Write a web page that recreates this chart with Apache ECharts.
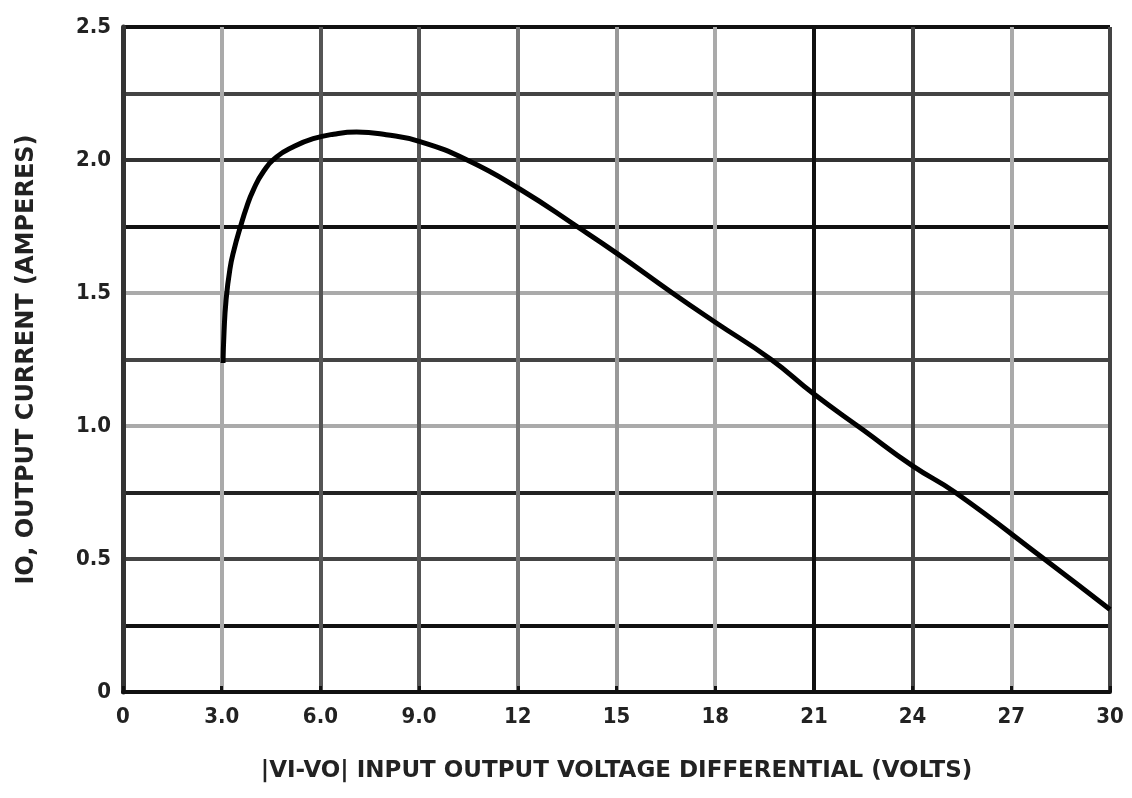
<!DOCTYPE html>
<html>
<head>
<meta charset="utf-8">
<script src="https://cdn.jsdelivr.net/npm/echarts@6/dist/echarts.min.js"></script>
<style>html,body{margin:0;padding:0;background:#fff}#c{width:1132px;height:798px}</style>
</head>
<body>
<div id="c"></div>
<script>
// Data
const voltage = [3.04, 3.07, 3.13, 3.25, 3.38, 3.56, 3.76, 3.96, 4.26, 4.67, 5.18, 5.78, 6.4, 7.1, 8.0, 9.0, 10.46, 12.07, 13.8, 15.0, 16.7, 18.0, 19.7, 21.0, 22.5, 24.0, 25.3, 28.0, 30.0];
const current = [1.237, 1.35, 1.47, 1.59, 1.665, 1.745, 1.824, 1.887, 1.955, 2.012, 2.05, 2.08, 2.097, 2.105, 2.095, 2.07, 2.00, 1.89, 1.75, 1.65, 1.50, 1.39, 1.25, 1.12, 0.985, 0.85, 0.75, 0.50, 0.31];
const xTickLabels = ['0', '3.0', '6.0', '9.0', '12', '15', '18', '21', '24', '27', '30'];
const yTickLabels = ['0', '0.5', '1.0', '1.5', '2.0', '2.5'];
const xName = '|VI-VO| INPUT OUTPUT VOLTAGE DIFFERENTIAL (VOLTS)';
const yName = 'IO, OUTPUT CURRENT (AMPERES)';

const tickFont = "'DejaVu Sans Condensed', 'Liberation Sans', sans-serif";
const nameFont = "'DejaVu Sans', 'Liberation Sans', sans-serif";
const chart = echarts.init(document.getElementById('c'), null, {renderer: 'canvas'});
chart.setOption({
  animation: false,
  backgroundColor: '#fff',
  grid: {left: 123, right: 22, top: 27, bottom: 106, containLabel: false},
  xAxis: {
    type: 'value', min: 0, max: 30, interval: 3,
    name: xName, nameLocation: 'middle', nameGap: 68,
    nameTextStyle: {fontFamily: nameFont, fontWeight: 'bold', fontSize: 23, color: '#222'},
    axisLine: {show: true, lineStyle: {color: '#111', width: 4}},
    axisTick: {show: true, inside: true, length: 6, lineStyle: {color: '#111', width: 3}},
    axisLabel: {
      fontFamily: tickFont, fontWeight: 'bold', fontSize: 22, color: '#222', margin: 14,
      formatter: (v) => xTickLabels[Math.round(v / 3)] ?? ''
    },
    splitLine: {show: true, lineStyle: {width: 4, color: ['#333', '#aaa', '#555', '#555', '#777', '#999', '#aaa', '#111', '#444', '#aaa', '#444']}}
  },
  yAxis: {
    type: 'value', min: 0, max: 2.5, interval: 0.25,
    name: yName, nameLocation: 'middle', nameGap: 84, nameRotate: 90,
    nameTextStyle: {fontFamily: nameFont, fontWeight: 'bold', fontSize: 24, color: '#222'},
    axisLine: {show: true, lineStyle: {color: '#333', width: 5}},
    axisTick: {show: false},
    axisLabel: {
      fontFamily: tickFont, fontWeight: 'bold', fontSize: 22, color: '#222', margin: 12,
      formatter: (v) => {
        const k = Math.round(v / 0.25);
        return k % 2 === 0 ? (yTickLabels[k / 2] ?? '') : '';
      }
    },
    splitLine: {show: true, lineStyle: {width: 4, color: ['#111', '#111', '#444', '#222', '#aaa', '#444', '#aaa', '#111', '#333', '#444', '#111']}}
  },
  series: [{
    type: 'line',
    data: voltage.map((x, i) => [x, current[i]]),
    smooth: 0.5,
    showSymbol: false,
    lineStyle: {color: '#000', width: 5},
    z: 5
  }]
});
</script>
</body>
</html>
